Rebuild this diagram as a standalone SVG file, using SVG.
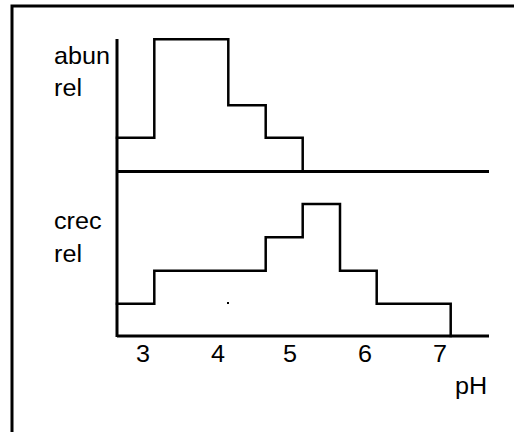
<svg xmlns="http://www.w3.org/2000/svg" width="514" height="432" viewBox="0 0 514 432">
<style>
.ln{fill:none;stroke:#000;stroke-width:2.5;stroke-linecap:square;stroke-linejoin:miter}
.ax{fill:none;stroke:#000;stroke-width:3}
.t{font-family:"Liberation Sans",Arial,sans-serif;font-size:24px;fill:#000}
</style>
<rect width="514" height="432" fill="#fff"/>
<g id="frame"><path class="ax" d="M12,432 V6 H514" stroke-width="2.2"/></g>
<g id="connectors">
<path class="ax" d="M117,39 V337"/>
<path class="ax" d="M117,171.5 H489"/>
<path class="ax" d="M117,336 H489"/>
<path class="ln" d="M117,137.7 H154.3 V39.3 H228.3 V105.3 H265.7 V137.7 H302.7 V171.5"/>
<path class="ln" d="M117,303.7 H154.3 V270.7 H265.7 V237.3 H302.7 V204 H340 V270.7 H376.7 V303.7 H450.7 V336"/>
<rect x="227" y="302" width="2" height="2" fill="#000"/>
</g>
<g id="labels">
<text class="t" transform="matrix(1.05 0 0 1 54 64)">abun</text>
<text class="t" transform="matrix(1.05 0 0 1 54 96)">rel</text>
<text class="t" transform="matrix(1.05 0 0 1 54 229)">crec</text>
<text class="t" transform="matrix(1.05 0 0 1 54 262)">rel</text>
<text class="t" text-anchor="middle" transform="matrix(1.05 0 0 1 143 362)">3</text>
<text class="t" text-anchor="middle" transform="matrix(1.05 0 0 1 218 362)">4</text>
<text class="t" text-anchor="middle" transform="matrix(1.05 0 0 1 290 362)">5</text>
<text class="t" text-anchor="middle" transform="matrix(1.05 0 0 1 365 362)">6</text>
<text class="t" text-anchor="middle" transform="matrix(1.05 0 0 1 440 362)">7</text>
<text class="t" transform="matrix(1.05 0 0 1 455 394)">pH</text>
</g>
</svg>
